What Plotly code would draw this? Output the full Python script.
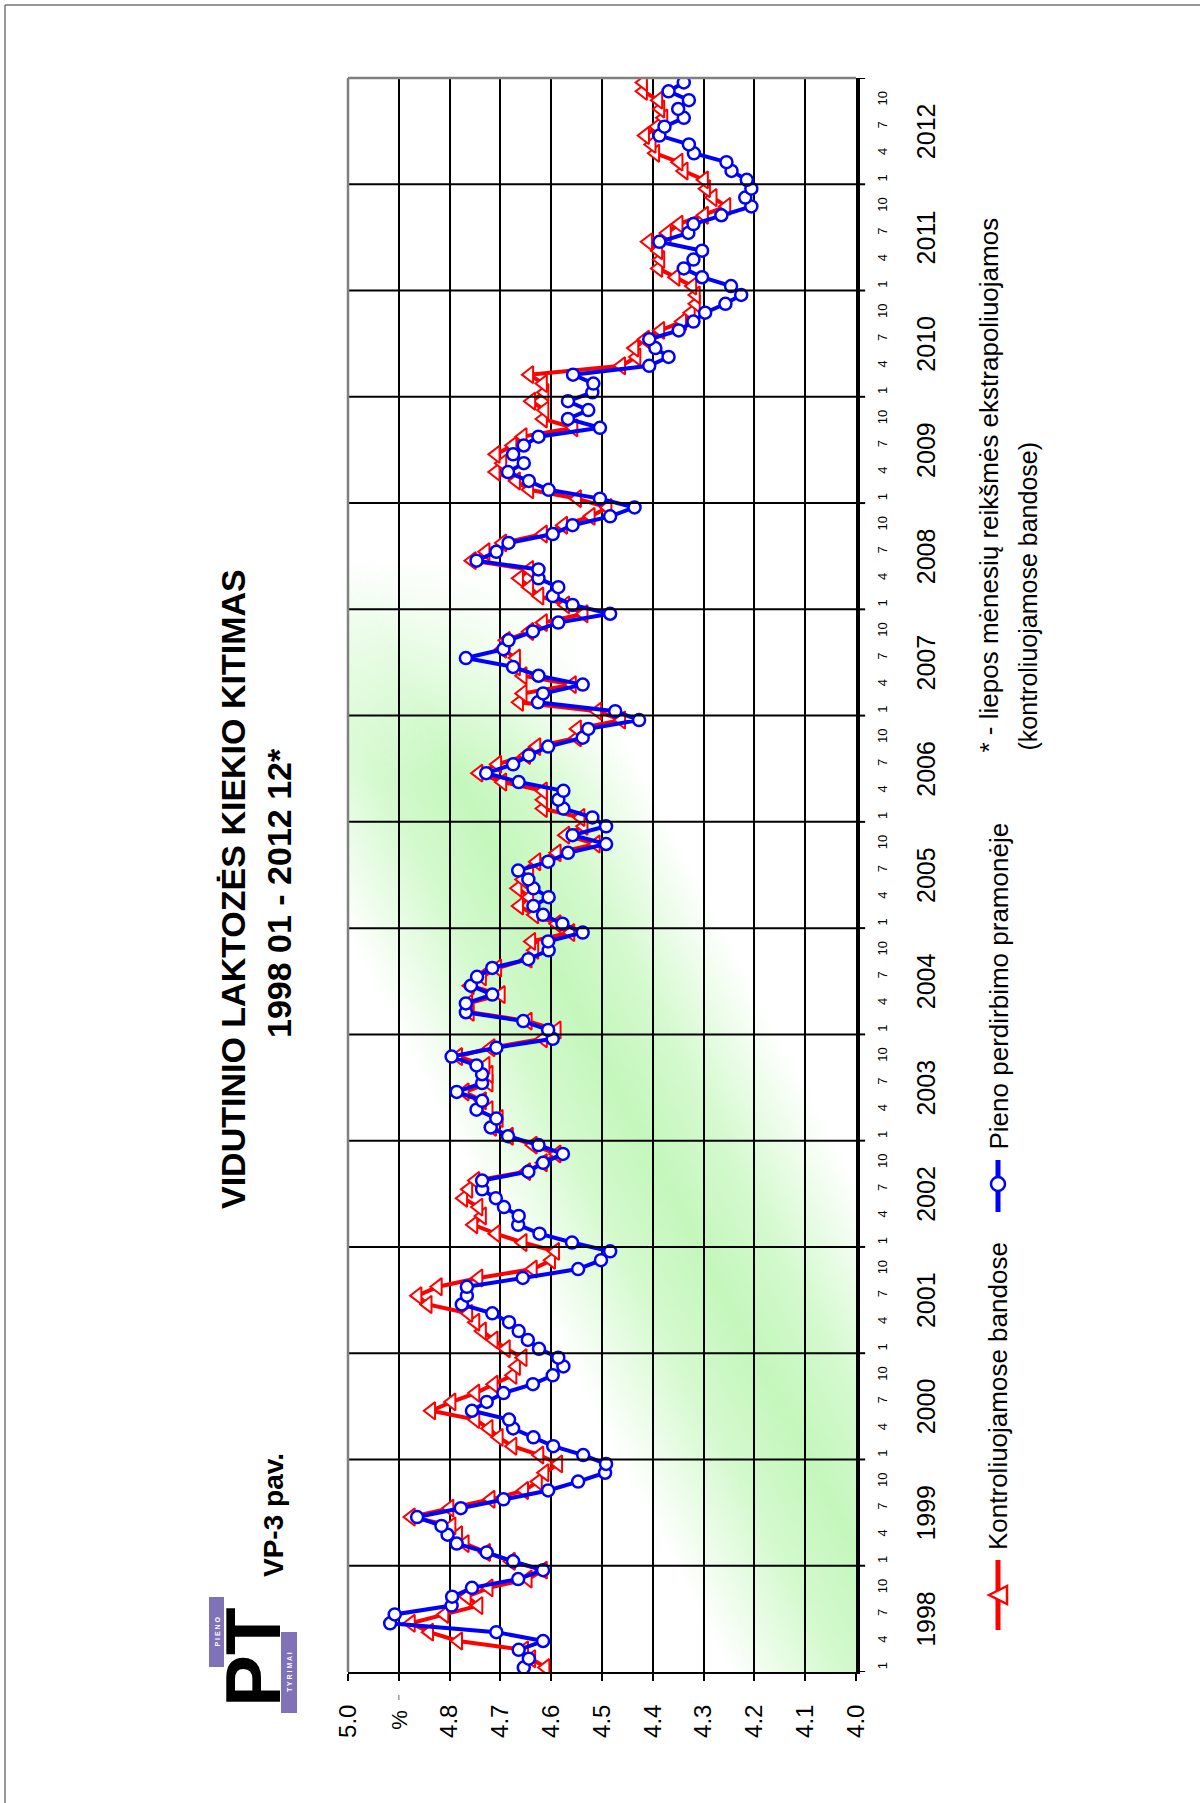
import base64
import plotly.graph_objects as go

# ---------------- data ----------------
years = list(range(1998, 2013))
month_labels = ["1", "4", "7", "10"]
value_ticks = [5.0, 4.9, 4.8, 4.7, 4.6, 4.5, 4.4, 4.3, 4.2, 4.1, 4.0]
value_tick_text = ["5.0", "", "4.8", "4.7", "4.6", "4.5", "4.4", "4.3", "4.2", "4.1", "4.0"]

# Kontroliuojamose bandose (red, triangles) - monthly 1998-01 .. 2012-12
kontrol = [
    4.611, 4.639, 4.653, 4.783, 4.840, 4.876, 4.810, 4.743, 4.766, 4.723, 4.646, 4.616,  # 1998
    4.679, 4.728, 4.770, 4.783, 4.796, 4.876, 4.800, 4.719, 4.653, 4.626, 4.613, 4.586,  # 1999
    4.623, 4.676, 4.703, 4.723, 4.749, 4.836, 4.796, 4.749, 4.713, 4.676, 4.669, 4.656,  # 2000
    4.689, 4.713, 4.736, 4.749, 4.763, 4.843, 4.863, 4.823, 4.743, 4.636, 4.600, 4.592,  # 2001
    4.656, 4.709, 4.753, 4.736, 4.743, 4.773, 4.763, 4.749, 4.649, 4.616, 4.589, 4.636,  # 2002
    4.683, 4.716, 4.703, 4.723, 4.736, 4.770, 4.723, 4.723, 4.729, 4.783, 4.719, 4.616,  # 2003
    4.589, 4.646, 4.760, 4.763, 4.699, 4.760, 4.736, 4.706, 4.646, 4.633, 4.639, 4.562,  # 2004
    4.589, 4.633, 4.663, 4.643, 4.666, 4.656, 4.643, 4.629, 4.589, 4.512, 4.572, 4.536,  # 2005
    4.542, 4.616, 4.616, 4.616, 4.696, 4.743, 4.706, 4.649, 4.629, 4.549, 4.549, 4.462,  # 2006
    4.509, 4.663, 4.656, 4.559, 4.656, 4.669, 4.669, 4.696, 4.689, 4.643, 4.616, 4.536,  # 2007
    4.572, 4.623, 4.643, 4.663, 4.643, 4.756, 4.729, 4.696, 4.616, 4.576, 4.522, 4.489,  # 2008
    4.549, 4.643, 4.669, 4.709, 4.696, 4.709, 4.676, 4.656, 4.556, 4.616, 4.613, 4.639,  # 2009
    4.613, 4.616, 4.643, 4.462, 4.432, 4.436, 4.415, 4.385, 4.342, 4.325, 4.315, 4.315,  # 2010
    4.322, 4.355, 4.389, 4.385, 4.389, 4.409, 4.372, 4.349, 4.299, 4.255, 4.282, 4.295,  # 2011
    4.299, 4.339, 4.349, 4.395, 4.402, 4.415, 4.392, 4.379, 4.385, 4.389, 4.419, 4.419,  # 2012
]

# Pieno perdirbimo pramonėje (blue, circles)
pramone = [
    4.654, 4.644, 4.664, 4.616, 4.708, 4.917, 4.908, 4.796, 4.795, 4.756, 4.665, 4.616,  # 1998
    4.675, 4.727, 4.786, 4.804, 4.816, 4.864, 4.778, 4.694, 4.606, 4.547, 4.494, 4.492,  # 1999
    4.537, 4.596, 4.635, 4.675, 4.683, 4.756, 4.727, 4.694, 4.636, 4.597, 4.576, 4.586,  # 2000
    4.624, 4.646, 4.664, 4.683, 4.716, 4.776, 4.766, 4.766, 4.656, 4.547, 4.502, 4.484,  # 2001
    4.559, 4.623, 4.665, 4.664, 4.693, 4.709, 4.736, 4.736, 4.645, 4.616, 4.577, 4.625,  # 2002
    4.685, 4.719, 4.708, 4.747, 4.736, 4.786, 4.736, 4.736, 4.747, 4.796, 4.708, 4.597,  # 2003
    4.606, 4.655, 4.768, 4.768, 4.716, 4.758, 4.746, 4.716, 4.645, 4.605, 4.606, 4.538,  # 2004
    4.578, 4.616, 4.635, 4.605, 4.635, 4.645, 4.665, 4.606, 4.567, 4.492, 4.558, 4.492,  # 2005
    4.519, 4.576, 4.586, 4.576, 4.664, 4.728, 4.675, 4.644, 4.606, 4.538, 4.527, 4.427,  # 2006
    4.474, 4.626, 4.616, 4.538, 4.625, 4.675, 4.768, 4.694, 4.684, 4.636, 4.586, 4.484,  # 2007
    4.558, 4.597, 4.586, 4.625, 4.625, 4.747, 4.708, 4.684, 4.597, 4.558, 4.484, 4.436,  # 2008
    4.504, 4.605, 4.644, 4.685, 4.654, 4.675, 4.654, 4.625, 4.504, 4.567, 4.527, 4.567,  # 2009
    4.519, 4.517, 4.557, 4.407, 4.369, 4.395, 4.407, 4.349, 4.320, 4.297, 4.257, 4.226,  # 2010
    4.246, 4.303, 4.339, 4.320, 4.303, 4.387, 4.330, 4.320, 4.265, 4.206, 4.218, 4.206,  # 2011
    4.215, 4.245, 4.255, 4.319, 4.329, 4.387, 4.377, 4.339, 4.350, 4.329, 4.369, 4.339,  # 2012
]

# ---------------- layout helpers ----------------
W, H = 1200, 1803
FONT = "Liberation Sans, Arial, Helvetica, sans-serif"


def fx(px):
    return px / W


def fy(py):
    return 1 - py / H


PL, PR, PT_, PB = 348, 856, 78, 1672
month_index = list(range(len(kontrol)))

fig = go.Figure()

fig.add_trace(go.Scatter(
    x=kontrol, y=month_index, mode="lines+markers", name="Kontroliuojamose bandose",
    line=dict(color="#FF0000", width=4),
    marker=dict(symbol="triangle-left", size=15, color="white",
                line=dict(color="#FF0000", width=2)),
    showlegend=False, hoverinfo="skip"))

fig.add_trace(go.Scatter(
    x=pramone, y=month_index, mode="lines+markers", name="Pieno perdirbimo pramonėje",
    line=dict(color="#0000FF", width=4),
    marker=dict(symbol="circle", size=12, color="white",
                line=dict(color="#0000FF", width=2.5)),
    showlegend=False, hoverinfo="skip"))

# y ticks (months 1,4,7,10 in each year)
ytickvals, yticktext = [], []
for k, _ in enumerate(years):
    for j, lab in zip((0, 3, 6, 9), month_labels):
        ytickvals.append(12 * k + j)
        yticktext.append(lab)

fig.update_layout(
    width=W, height=H,
    margin=dict(l=0, r=0, t=0, b=0),
    paper_bgcolor="white",
    plot_bgcolor="rgba(0,0,0,0)",
    font=dict(family=FONT, color="black"),
    xaxis=dict(
        domain=[fx(PL), fx(PR)],
        range=[5.0, 4.0],
        tickmode="array", tickvals=value_ticks, ticktext=value_tick_text,
        tickangle=-90, tickfont=dict(size=24, family=FONT),
        ticks="outside", ticklen=7, tickwidth=2, tickcolor="black",
        ticklabelstandoff=14,
        showline=True, linecolor="black", linewidth=2,
        showgrid=True, gridcolor="black", gridwidth=1.5,
        zeroline=False, automargin=False, fixedrange=True,
    ),
    yaxis=dict(
        domain=[fy(PB), fy(PT_)],
        range=[-0.5, len(kontrol) - 0.5],
        side="right",
        tickmode="array", tickvals=ytickvals, ticktext=yticktext,
        tickangle=-90, tickfont=dict(size=13, family=FONT),
        ticks="", ticklabelstandoff=11,
        showline=True, linecolor="black", linewidth=4,
        showgrid=False, zeroline=False, automargin=False, fixedrange=True,
    ),
)

# ---------------- green background band ----------------
bw, bh = PR - PL, PB - PT_
svg = (
    f'<svg xmlns="http://www.w3.org/2000/svg" width="{bw}" height="{bh}" viewBox="0 0 {bw} {bh}">'
    '<defs><linearGradient id="g" gradientUnits="userSpaceOnUse" x1="128" y1="1105" x2="428" y2="950">'
    '<stop offset="0" stop-color="#c8f8c0" stop-opacity="0"/>'
    '<stop offset="0.3" stop-color="#c8f8c0" stop-opacity="0.8"/>'
    '<stop offset="0.5" stop-color="#c4f7bc" stop-opacity="1"/>'
    '<stop offset="0.7" stop-color="#c8f8c0" stop-opacity="0.8"/>'
    '<stop offset="1" stop-color="#c8f8c0" stop-opacity="0"/>'
    '</linearGradient>'
    '<linearGradient id="f" gradientUnits="userSpaceOnUse" x1="0" y1="0" x2="0" y2="1594">'
    '<stop offset="0" stop-color="white" stop-opacity="0"/>'
    '<stop offset="0.30" stop-color="white" stop-opacity="0"/>'
    '<stop offset="0.44" stop-color="white" stop-opacity="1"/>'
    '<stop offset="1" stop-color="white" stop-opacity="1"/>'
    '</linearGradient>'
    f'<mask id="m"><rect width="{bw}" height="{bh}" fill="url(#f)"/></mask></defs>'
    f'<rect width="{bw}" height="{bh}" fill="url(#g)" mask="url(#m)"/></svg>'
)
fig.add_layout_image(dict(
    source="data:image/svg+xml;base64," + base64.b64encode(svg.encode()).decode(),
    xref="paper", yref="paper", x=fx(PL), y=fy(PT_),
    sizex=fx(PR) - fx(PL), sizey=fy(PT_) - fy(PB),
    xanchor="left", yanchor="top", sizing="stretch", layer="below"))

shapes = []
# year boundary lines + outside ticks
for k in range(0, len(years) + 1):
    yb = 12 * k - 0.5
    if 0 < k < len(years):
        shapes.append(dict(type="line", xref="x domain", yref="y", x0=0, x1=1, y0=yb, y1=yb,
                           line=dict(color="black", width=2), layer="above"))
    shapes.append(dict(type="line", xref="x domain", yref="y", x0=1, x1=1.018, y0=yb, y1=yb,
                       line=dict(color="black", width=2), layer="above"))
# gray left and top borders of plot
shapes.append(dict(type="line", xref="x domain", yref="y domain", x0=0, x1=0, y0=0, y1=1,
                   line=dict(color="#808080", width=2.5), layer="above"))
shapes.append(dict(type="line", xref="x domain", yref="y domain", x0=0, x1=1, y0=1, y1=1,
                   line=dict(color="#808080", width=2.5), layer="above"))
# small mark near 4.9 label
shapes.append(dict(type="line", xref="x", yref="paper", x0=4.9, x1=4.9, y0=fy(1695), y1=fy(1700),
                   line=dict(color="#999999", width=1.5)))
# outer page border (left & top)
shapes.append(dict(type="line", xref="paper", yref="paper", x0=fx(5), x1=fx(5), y0=0, y1=fy(5),
                   line=dict(color="#333333", width=1)))
shapes.append(dict(type="line", xref="paper", yref="paper", x0=fx(5), x1=1, y0=fy(5), y1=fy(5),
                   line=dict(color="#333333", width=1)))

# legend samples
shapes.append(dict(type="line", xref="paper", yref="paper", x0=fx(998), x1=fx(998),
                   y0=fy(1630), y1=fy(1560), line=dict(color="#FF0000", width=5)))
shapes.append(dict(type="path", xref="paper", yref="paper",
                   path=f"M {fx(989)},{fy(1595)} L {fx(1007)},{fy(1586)} L {fx(1007)},{fy(1604)} Z",
                   fillcolor="white", line=dict(color="#FF0000", width=2.5)))
shapes.append(dict(type="line", xref="paper", yref="paper", x0=fx(998), x1=fx(998),
                   y0=fy(1212), y1=fy(1160), line=dict(color="#0000FF", width=5)))
shapes.append(dict(type="circle", xref="paper", yref="paper", x0=fx(991), x1=fx(1005),
                   y0=fy(1191), y1=fy(1177), fillcolor="white", line=dict(color="#0000FF", width=2.5)))

# logo
shapes.append(dict(type="rect", xref="paper", yref="paper", x0=fx(209), x1=fx(224),
                   y0=fy(1667), y1=fy(1597), fillcolor="#7f72b8", line=dict(width=0)))
shapes.append(dict(type="rect", xref="paper", yref="paper", x0=fx(281), x1=fx(297),
                   y0=fy(1713), y1=fy(1632), fillcolor="#7f72b8", line=dict(width=0)))
fig.update_layout(shapes=shapes)

ann = []


def txt(text, x, y, size, bold=False, xanchor="center", yanchor="middle", yref="paper", xref="paper", color="black"):
    ann.append(dict(text=f"<b>{text}</b>" if bold else text, x=x, y=y, xref=xref, yref=yref,
                    xanchor=xanchor, yanchor=yanchor, textangle=-90, showarrow=False,
                    font=dict(size=size, family=FONT, color=color)))


# year labels
for k, yr in enumerate(years):
    txt(str(yr), fx(926), 12 * k + 5.5, 25, yref="y")

# % label for value axis
txt("%", 4.9, fy(1720), 22, xref="x")

# titles
txt("VIDUTINIO LAKTOZĖS KIEKIO KITIMAS", fx(233), fy(889), 34, bold=True)
txt("1998 01 - 2012 12*", fx(279), fy(893), 34, bold=True)
txt("VP-3 pav.", fx(273), fy(1515), 28, bold=True)

# logo text
txt("PT", fx(253), fy(1657), 78, bold=True)
txt("P I E N O", fx(216.5), fy(1632), 7, bold=True, color="white")
txt("T Y R I M A I", fx(289), fy(1672), 7, bold=True, color="white")

# legend texts
txt("Kontroliuojamose bandose", fx(998), fy(1552), 26, yanchor="bottom")
txt("Pieno perdirbimo pramonėje", fx(998), fy(1152), 26, yanchor="bottom")

# footnote
txt("* - liepos mėnesių reikšmės ekstrapoliuojamos", fx(988), fy(755), 26, yanchor="bottom")
txt("(kontroliuojamose bandose)", fx(1027), fy(753), 25, yanchor="bottom")

fig.update_layout(annotations=ann)

fig.write_html("out.html", config={"displayModeBar": False},
               post_script="document.body.style.margin='0';document.body.style.overflow='hidden';")
